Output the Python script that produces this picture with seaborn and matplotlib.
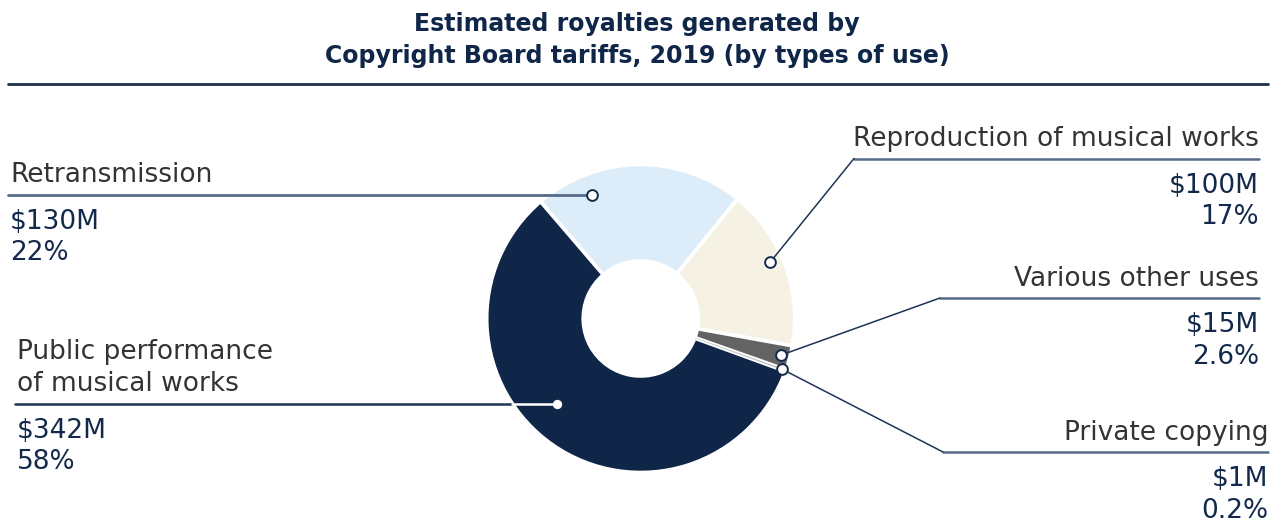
import numpy as np
import pandas as pd
import matplotlib
matplotlib.use("Agg")
import matplotlib.pyplot as plt
import seaborn as sns

# ---- data ----
categories = ["Retransmission", "Reproduction of musical works", "Various other uses",
              "Private copying", "Public performance\nof musical works"]
amounts = [130, 100, 15, 1, 342]          # $M
amount_labels = ["$130M", "$100M", "$15M", "$1M", "$342M"]
pct_labels = ["22%", "17%", "2.6%", "0.2%", "58%"]
title = "Estimated royalties generated by\nCopyright Board tariffs, 2019 (by types of use)"

# ---- style ----
colors = ["#DCEDF9", "#F5F2E4", "#636363", "#C4C4C4", "#0F2649"]
NAVY = "#13294B"
TEXT = "#333333"
LINE = "#566A89"

sns.set_theme(style="white")
plt.rcParams["font.family"] = ["DejaVu Sans"]

W, H = 1276, 523
fig = plt.figure(figsize=(W / 100, H / 100), dpi=100)
ax = fig.add_axes([0, 0, 1, 1])

def Y(y):
    return H - y

cx, cy = 640.7, Y(318.5)
R_OUT, R_IN = 154, 57.5
wedges, _ = ax.pie(amounts, colors=colors, startangle=130.6, counterclock=False,
                   radius=R_OUT, center=(cx, cy),
                   wedgeprops=dict(width=R_OUT - R_IN, edgecolor="white", linewidth=2.6))
wedges[3].set_linewidth(0)
wedges[3].set_zorder(3)

ax.set_xlim(0, W)
ax.set_ylim(0, H)
ax.set_aspect("equal")
ax.axis("off")

# ---- layout (positions only) ----
dot_pos = [(0.76, 133), (0.55, 141), (0.52, 145), (0.5, 150), (0.453, 119.6)]
# x anchor, ha, line y, line start x, elbow x
layout = [
    (10, "left", 194.7, 8, None),
    (1259, "right", 158.5, 1259, 854),
    (1259, "right", 298, 1259, 940),
    (1268, "right", 452, 1268, 943),
    (17, "left", 403.7, 15, None),
]
FS = 19

dxs, dys = [], []
for i, w in enumerate(wedges):
    frac, r = dot_pos[i]
    ang = np.deg2rad(w.theta1 + frac * (w.theta2 - w.theta1))
    dxs.append(cx + r * np.cos(ang))
    dys.append(cy + r * np.sin(ang))

for i in range(len(categories)):
    x, ha, lny, x0, elbow = layout[i]
    lines = categories[i].split("\n")
    for k, txt in enumerate(reversed(lines)):
        ax.text(x, Y(lny - 12.5 - 32 * k), txt, ha=ha, va="baseline", fontsize=FS,
                color=TEXT)
    ax.text(x, Y(lny + 34.5), amount_labels[i], ha=ha, va="baseline", fontsize=FS,
            color=NAVY)
    ax.text(x, Y(lny + 65.5), pct_labels[i], ha=ha, va="baseline", fontsize=FS,
            color=NAVY)
    if elbow is None:
        if i == 4:
            yy = Y(lny) - cy
            xedge = cx - np.sqrt(R_OUT ** 2 - yy ** 2)
            ax.plot([x0, xedge], [Y(lny), Y(lny)], color="#1F3357", lw=1.8, zorder=4)
            ax.plot([xedge, dxs[i]], [Y(lny), Y(lny)], color="white", lw=1.8, zorder=4)
        else:
            ax.plot([x0, dxs[i]], [Y(lny), Y(lny)], color=LINE, lw=2, zorder=4)
    else:
        ax.plot([x0, elbow], [Y(lny), Y(lny)], color=LINE, lw=1.8, zorder=4)
        ax.plot([elbow, dxs[i]], [Y(lny), dys[i]], color="#1F3357", lw=1.1, zorder=4)

ring = [0, 1, 2, 3]
sns.scatterplot(x=[dxs[i] for i in ring], y=[dys[i] for i in ring], ax=ax, s=60,
                color="white", edgecolor=NAVY, linewidth=1.4, zorder=6, legend=False)
sns.scatterplot(x=[dxs[4]], y=[dys[4]], ax=ax, s=45, color="white", edgecolor="white",
                linewidth=0, zorder=6, legend=False)

# ---- title and rule ----
for k, txt in enumerate(title.split("\n")):
    ax.text(637, Y(31 + 32 * k), txt, ha="center", va="baseline", fontsize=17,
            fontweight="bold", color="#0F2649")
ax.plot([8, 1268], [Y(84), Y(84)], color="#1F2F4A", lw=2)

ax.set_xlim(0, W)
ax.set_ylim(0, H)
fig.savefig("out.png", dpi=100, facecolor="white")
